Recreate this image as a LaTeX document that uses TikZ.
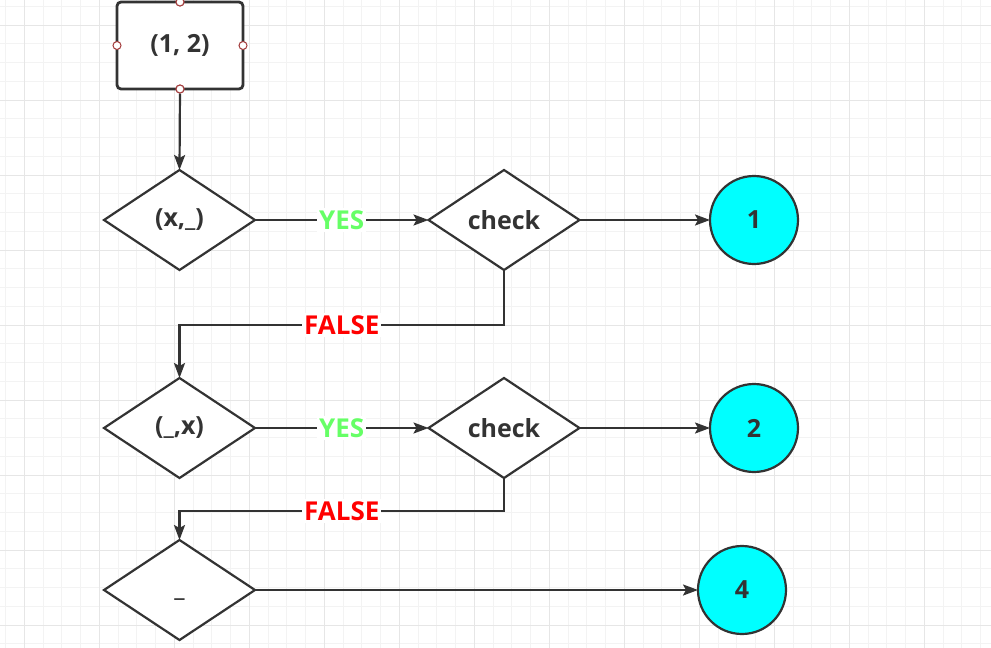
\documentclass[tikz,border=0pt]{standalone}
\usepackage{fontspec}
\setmainfont{Open Sans}
\usetikzlibrary{shapes.geometric,arrows.meta}
\definecolor{ink}{HTML}{333333}
\definecolor{gridminor}{HTML}{F3F3F3}
\definecolor{gridmajor}{HTML}{E6E6E6}
\definecolor{yesgreen}{HTML}{66FF66}
\definecolor{falsered}{HTML}{FF0000}
\definecolor{handle}{HTML}{A33B3B}
\definecolor{cyanfill}{HTML}{00FFFF}
\tikzset{
  lbl/.style={font=\fontsize{25}{28}\selectfont\bfseries, text=ink},
  decision/.style={lbl, shape=diamond, draw=ink, fill=white, line width=2.2pt, aspect=1.5,
    minimum width=151pt, minimum height=100pt, inner sep=1pt, outer sep=0pt},
  startbox/.style={lbl, shape=rectangle, draw=ink, fill=white, line width=2.8pt, rounded corners=4pt,
    minimum width=126pt, minimum height=87pt, outer sep=0pt},
  endcircle/.style={lbl, shape=circle, draw=ink, fill=cyanfill, line width=2.2pt,
    minimum size=88pt, inner sep=0pt, outer sep=0pt},
  edge/.style={draw=ink, line width=2.2pt, -{Stealth[length=15pt,width=11pt,inset=3pt]}},
  yeslbl/.style={font=\fontsize{26}{28}\selectfont\bfseries, text=yesgreen, fill=white, inner sep=2pt},
  falselbl/.style={font=\fontsize{26}{28}\selectfont\bfseries, text=falsered, fill=white, inner sep=2pt},
  handlept/.style={shape=circle, draw=handle, fill=white, line width=1pt, minimum size=8pt, inner sep=0pt}
}
\begin{document}
\begin{tikzpicture}[x=1pt,y=-1pt]
\useasboundingbox (0,0) rectangle (991,648);
\fill[white] (0,0) rectangle (991,648);
% grid
\foreach \i in {0,...,53} {
  \draw[gridminor, line width=1pt] ({5.55+18.75*\i},0) -- ++(0,648);
}
\foreach \i in {0,...,35} {
  \draw[gridminor, line width=1pt] (0,{6.25+18.75*\i}) -- ++(991,0);
}
\foreach \i in {0,...,13} {
  \draw[gridmajor, line width=1pt] ({24.3+75*\i},0) -- ++(0,648);
}
\foreach \i in {0,...,8} {
  \draw[gridmajor, line width=1pt] (0,{25+75*\i}) -- ++(991,0);
}
% nodes
\node[startbox] (start) at (180,45.5) {(1, 2)};
\node[decision] (d1) at (179.5,220) {(x,\_)};
\node[decision] (c1) at (504,220) {check};
\node[endcircle] (e1) at (754,220) {1};
\node[decision] (d2) at (179.5,428) {(\_,x)};
\node[decision] (c2) at (504,428) {check};
\node[endcircle] (e2) at (754,428) {2};
\node[decision] (d3) at (179.5,590) {\vphantom{(}\_};
\node[endcircle] (e4) at (742,590) {4};
% selection handles
\node[handlept] (hn) at (start.north) {};
\node[handlept] (hs) at (start.south) {};
\node[handlept] (hw) at (start.west) {};
\node[handlept] (he) at (start.east) {};
% bend coordinates
\coordinate (f1a) at (504,325);
\coordinate (f1b) at (179.5,325);
\coordinate (f2a) at (504,511);
\coordinate (f2b) at (179.5,511);
% edges
\draw[edge] (hs) -- (d1.north);
\draw[edge] (d1.east) -- node[yeslbl]{YES} (c1.west);
\draw[edge] (c1.east) -- (e1.west);
\draw[edge] (c1.south) -- (f1a) -- node[falselbl]{FALSE} (f1b) -- (d2.north);
\draw[edge] (d2.east) -- node[yeslbl]{YES} (c2.west);
\draw[edge] (c2.east) -- (e2.west);
\draw[edge] (c2.south) -- (f2a) -- node[falselbl]{FALSE} (f2b) -- (d3.north);
\draw[edge] (d3.east) -- (e4.west);
% redraw handles on top
\node[handlept] at (start.north) {};
\node[handlept] at (start.south) {};
\end{tikzpicture}
\end{document}
